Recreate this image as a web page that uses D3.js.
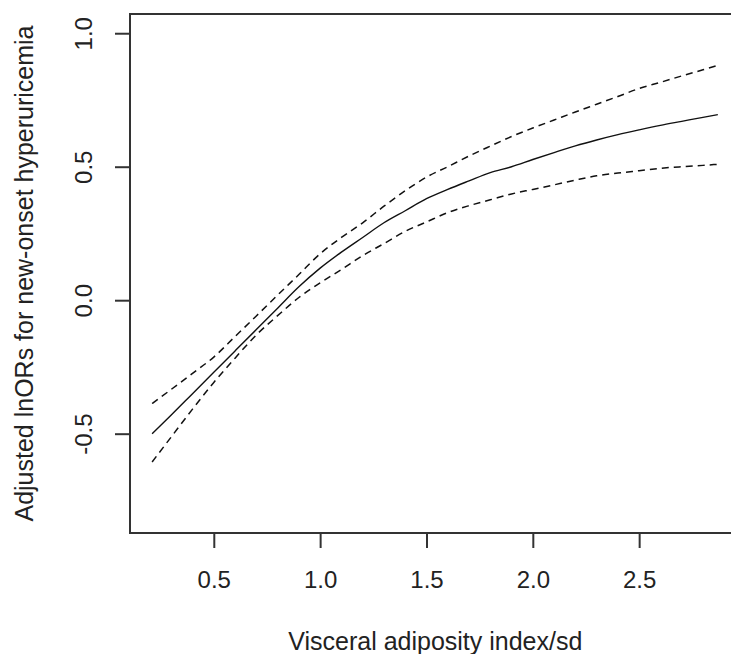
<!DOCTYPE html>
<html>
<head>
<meta charset="utf-8">
<script src="https://d3js.org/d3.v7.min.js"></script>
<style>
  body { margin: 0; background: #fff; }
  .chart text { font-family: "Liberation Sans", Arial, sans-serif; fill: #222; }
  .axis path { display: none; }
  .axis line { stroke: #333; stroke-width: 2; }
</style>
</head>
<body>
<div class="chart"></div>
<script>
var svgWidth = 731;
var svgHeight = 654;

// x values (VAI/sd) and the fitted curve with its confidence band
var xVals = [0.21, 0.3, 0.4, 0.5, 0.6, 0.7, 0.8, 0.9, 1.0, 1.1, 1.2, 1.3, 1.4, 1.5, 1.6, 1.7, 1.8, 1.9, 2.0, 2.1, 2.2, 2.3, 2.4, 2.5, 2.6, 2.7, 2.8, 2.87];
var fitVals = [-0.50, -0.43, -0.35, -0.27, -0.19, -0.11, -0.03, 0.05, 0.12, 0.18, 0.235, 0.29, 0.335, 0.38, 0.415, 0.447, 0.478, 0.50, 0.527, 0.553, 0.578, 0.60, 0.62, 0.638, 0.655, 0.67, 0.685, 0.695];
var upperVals = [-0.387, -0.334, -0.274, -0.213, -0.136, -0.059, 0.019, 0.096, 0.174, 0.235, 0.29, 0.352, 0.41, 0.461, 0.50, 0.54, 0.577, 0.613, 0.645, 0.675, 0.705, 0.734, 0.763, 0.793, 0.816, 0.84, 0.863, 0.88];
var lowerVals = [-0.606, -0.512, -0.408, -0.308, -0.217, -0.13, -0.058, 0.01, 0.065, 0.115, 0.167, 0.212, 0.258, 0.293, 0.328, 0.354, 0.376, 0.398, 0.415, 0.432, 0.45, 0.466, 0.476, 0.485, 0.494, 0.50, 0.505, 0.509];

var xTicks = [0.5, 1.0, 1.5, 2.0, 2.5];
var yTicks = [-0.5, 0.0, 0.5, 1.0];

// plot region (R style box, right edge runs off the picture)
var plot = { left: 130, top: 14, right: 740.6, bottom: 533 };

var svg = d3.select(".chart")
    .append("svg")
    .attr("width", svgWidth)
    .attr("height", svgHeight);

var xScale = d3.scaleLinear()
    .domain([0.106, 2.977])
    .range([plot.left, plot.right]);

var yScale = d3.scaleLinear()
    .domain([-0.872, 1.072])
    .range([plot.bottom, plot.top]);

// R prints a plain hyphen for negatives
var fmt = function(d) { return d3.format(".1f")(d).replace("\u2212", "-"); };

// curves
var line = d3.line()
    .x(function(d) { return xScale(d[0]); })
    .y(function(d) { return yScale(d[1]); })
    .curve(d3.curveMonotoneX);

function pairs(vals) {
    return xVals.map(function(x, i) { return [x, vals[i]]; });
}

svg.append("path")
    .datum(pairs(upperVals))
    .attr("d", line)
    .attr("fill", "none")
    .attr("stroke", "#111")
    .attr("stroke-width", 1.5)
    .attr("stroke-dasharray", "7,5");

svg.append("path")
    .datum(pairs(lowerVals))
    .attr("d", line)
    .attr("fill", "none")
    .attr("stroke", "#111")
    .attr("stroke-width", 1.5)
    .attr("stroke-dasharray", "7,5");

svg.append("path")
    .datum(pairs(fitVals))
    .attr("d", line)
    .attr("fill", "none")
    .attr("stroke", "#111")
    .attr("stroke-width", 1.4);

// box
svg.append("rect")
    .attr("x", plot.left)
    .attr("y", plot.top)
    .attr("width", plot.right - plot.left)
    .attr("height", plot.bottom - plot.top)
    .attr("fill", "none")
    .attr("stroke", "#333")
    .attr("stroke-width", 2);

// x axis
var xAxis = svg.append("g")
    .attr("class", "axis")
    .attr("transform", "translate(0," + plot.bottom + ")")
    .call(d3.axisBottom(xScale).tickValues(xTicks).tickSize(15).tickFormat(fmt));

xAxis.selectAll("text")
    .attr("y", 55)
    .attr("dy", null)
    .style("font-size", "24px")
    .attr("fill", "#222");

// y axis, labels rotated like R's default las=0
var yAxis = svg.append("g")
    .attr("class", "axis")
    .attr("transform", "translate(" + plot.left + ",0)")
    .call(d3.axisLeft(yScale).tickValues(yTicks).tickSize(15).tickFormat(fmt));

yAxis.selectAll("text")
    .attr("x", null)
    .attr("dy", null)
    .attr("text-anchor", "middle")
    .attr("transform", "translate(-38,0) rotate(-90)")
    .style("font-size", "24px")
    .attr("fill", "#222");

// axis titles
svg.append("text")
    .attr("x", (plot.left + plot.right) / 2)
    .attr("y", 650)
    .attr("text-anchor", "middle")
    .style("font-size", "25px")
    .text("Visceral adiposity index/sd");

svg.append("text")
    .attr("transform", "translate(33," + ((plot.top + plot.bottom) / 2) + ") rotate(-90)")
    .attr("text-anchor", "middle")
    .style("font-size", "25px")
    .text("Adjusted lnORs for new-onset hyperuricemia");
</script>
</body>
</html>
